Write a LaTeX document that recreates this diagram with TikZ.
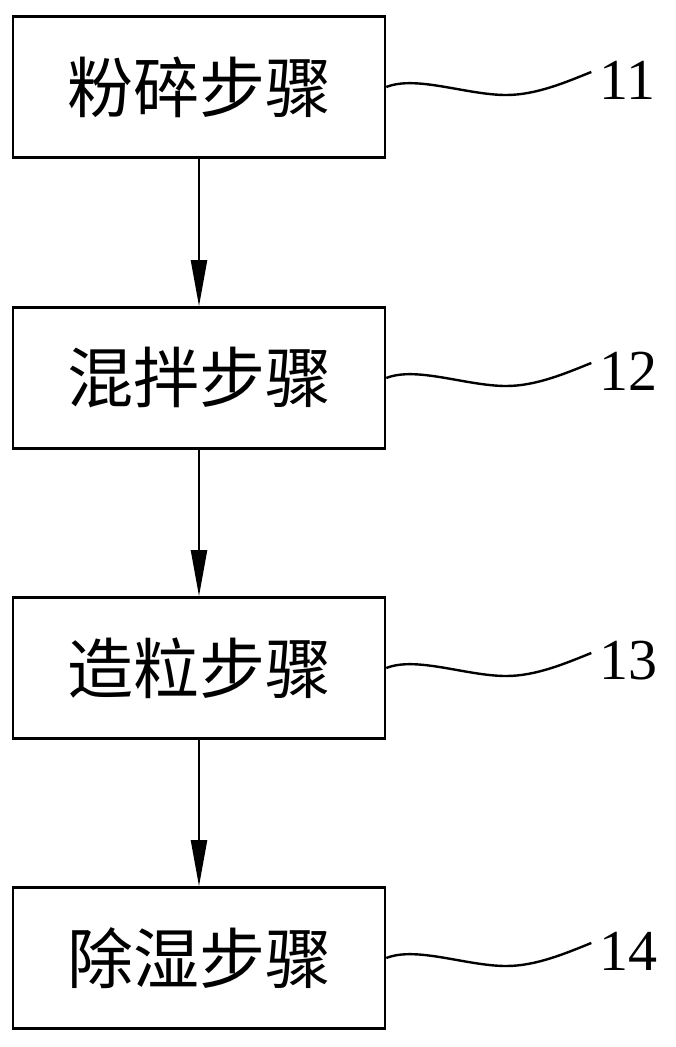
\documentclass[tikz,border=0pt]{standalone}
\usepackage{fontspec}
\setmainfont{Liberation Serif}
\newfontfamily\cjk{Noto Sans CJK SC}
\usetikzlibrary{arrows.meta}
\begin{document}
\begin{tikzpicture}[x=1pt,y=-1pt,
  stepbox/.style={draw,line width=2.6pt,minimum width=372pt,minimum height=141pt,inner sep=0pt,font=\cjk\fontsize{66}{68}\selectfont},
  flow/.style={line width=2.2pt,-{Triangle[length=46pt,width=16pt]}},
  wave/.style={line width=2.4pt},
  num/.style={font=\fontsize{58}{60}\selectfont,anchor=west,inner sep=0pt}]
\useasboundingbox (0,0) rectangle (676,1047);
\node[stepbox] (s1) at (199,87) {粉碎步骤};
\node[stepbox] (s2) at (199,378) {混拌步骤};
\node[stepbox] (s3) at (199,668) {造粒步骤};
\node[stepbox] (s4) at (199,958) {除湿步骤};
\draw[flow] (s1) -- (s2);
\draw[flow] (s2) -- (s3);
\draw[flow] (s3) -- (s4);
\foreach \i/\n in {1/11,2/12,3/13,4/14}{
  \node[num] (n\i) at ([xshift=213pt,yshift=7pt]s\i.east) {\n};
  \coordinate (w\i) at ([xshift=205pt,yshift=15pt]s\i.east);
  \draw[wave] (s\i.east) .. controls +(30,-12) and +(-40,0) .. ([xshift=120pt,yshift=-8pt]s\i.east)
     .. controls +(30,0) and +(-25,10) .. (w\i);
}
\end{tikzpicture}
\end{document}
